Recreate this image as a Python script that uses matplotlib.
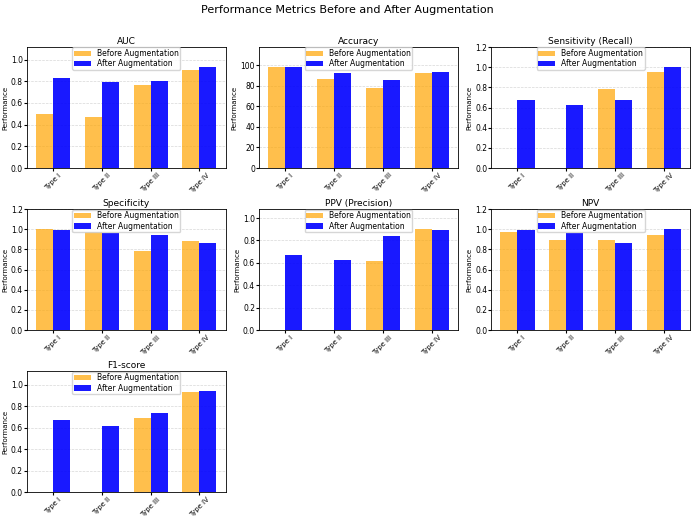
import matplotlib
matplotlib.use("Agg")
import matplotlib.pyplot as plt
import numpy as np

types = ["Type I", "Type II", "Type III", "Type IV"]
metrics = ["AUC", "Accuracy", "Sensitivity (Recall)", "Specificity",
           "PPV (Precision)", "NPV", "F1-score"]

before_auc = [0.50, 0.47, 0.77, 0.90]
after_auc = [0.83, 0.79, 0.80, 0.93]
before_acc = [98, 87, 78, 92]
after_acc = [98, 92, 86, 93]
before_sens = [0.0, 0.0, 0.78, 0.95]
after_sens = [0.67, 0.63, 0.67, 1.00]
before_spec = [1.00, 0.97, 0.78, 0.88]
after_spec = [0.99, 0.96, 0.94, 0.86]
before_ppv = [0.0, 0.0, 0.62, 0.90]
after_ppv = [0.67, 0.63, 0.84, 0.89]
before_npv = [0.97, 0.89, 0.89, 0.94]
after_npv = [0.99, 0.96, 0.86, 1.00]
before_f1 = [0.0, 0.0, 0.69, 0.93]
after_f1 = [0.67, 0.62, 0.74, 0.94]

before_all = [before_auc, before_acc, before_sens, before_spec, before_ppv, before_npv, before_f1]
after_all = [after_auc, after_acc, after_sens, after_spec, after_ppv, after_npv, after_f1]

fig, axes = plt.subplots(3, 3, figsize=(6.94, 5.17), dpi=100)
fig.subplots_adjust(left=0.039, right=0.994, top=0.909, bottom=0.048,
                    wspace=0.17, hspace=0.34)
fig.suptitle("Performance Metrics Before and After Augmentation", fontsize=8, y=0.99)

x = np.arange(len(types))
w = 0.35
for i, ax in enumerate(axes.flat):
    if i >= len(metrics):
        ax.axis("off")
        continue
    b = before_all[i]
    a = after_all[i]
    ax.bar(x - w / 2, b, w, color="orange", alpha=0.7, label="Before Augmentation")
    ax.bar(x + w / 2, a, w, color="blue", alpha=0.9, label="After Augmentation")
    ax.set_title(metrics[i], fontsize=6.5, pad=2)
    ax.set_ylabel("Performance", fontsize=5, labelpad=2)
    ax.set_xticks(x)
    ax.set_xticklabels(types, rotation=45, fontsize=5)
    ax.tick_params(axis="y", labelsize=5.5, length=2, pad=1)
    ax.tick_params(axis="x", length=2, pad=1)
    ax.set_ylim(0, max(max(b), max(a)) * 1.2)
    ax.grid(axis="y", linestyle="--", alpha=0.5, linewidth=0.5)
    ax.set_axisbelow(True)
    for s in ax.spines.values():
        s.set_linewidth(0.6)
    ax.legend(loc="upper center", fontsize=5.5, borderpad=0.2, labelspacing=0.2,
              handlelength=2.2, borderaxespad=0.05, framealpha=0.8)

fig.savefig("out.png", dpi=100)
